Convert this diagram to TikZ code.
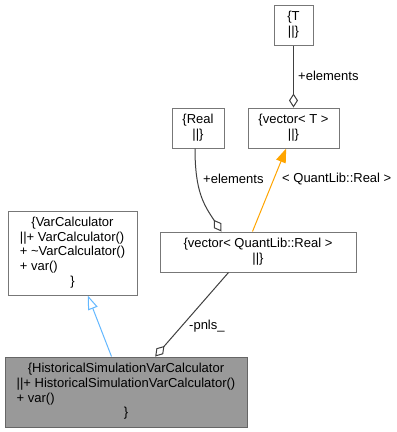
\documentclass[tikz,border=0pt]{standalone}
\usepackage{fontspec}
\setmainfont{Liberation Sans}
\usetikzlibrary{arrows.meta}
\definecolor{boxline}{HTML}{777777}
\definecolor{edgeline}{HTML}{404040}
\definecolor{hifill}{HTML}{999999}
\definecolor{hiline}{HTML}{666666}
\definecolor{inherit}{HTML}{63B8FF}
\definecolor{tmpl}{HTML}{FFA500}
\tikzset{
  umlbox/.style={draw=boxline, line width=1pt, fill=white, rectangle, inner sep=0pt,
    font=\fontsize{13}{14.7}\selectfont},
  hibox/.style={umlbox, draw=hiline, fill=hifill},
  lbl/.style={anchor=west, inner sep=0pt, font=\fontsize{13}{14.7}\selectfont},
  assoc/.style={draw=edgeline, line width=1pt,
    -{Diamond[open, length=14pt, width=9pt, line width=1pt]}},
  derive/.style={draw=inherit, line width=1pt,
    -{Triangle[open, length=14pt, width=10pt, line width=1pt]}},
  instof/.style={draw=tmpl, line width=1pt,
    -{Triangle[fill=tmpl, length=14pt, width=10pt]}},
}
\renewcommand{\arraystretch}{1}
\begin{document}
\begin{tikzpicture}[x=1pt, y=-1pt]
  \useasboundingbox[fill=white] (0,0) rectangle (397,432);

  % class boxes
  \node[umlbox, minimum width=39pt, minimum height=40pt] (t) at (293.5,25)
    {\begin{tabular}{@{}c@{}}\{T\\||\}\end{tabular}};
  \node[umlbox, minimum width=91pt, minimum height=40pt] (vect) at (293.5,128)
    {\begin{tabular}{@{}c@{}}\{vector< T >\\||\}\end{tabular}};
  \node[umlbox, minimum width=52pt, minimum height=40pt] (real) at (198,128)
    {\begin{tabular}{@{}c@{}}\{Real\\||\}\end{tabular}};
  \node[umlbox, minimum width=196pt, minimum height=40pt] (vecreal) at (258,252)
    {\begin{tabular}{@{}c@{}}\{vector< QuantLib::Real >\\||\}\end{tabular}};
  \node[umlbox, minimum width=129pt, minimum height=84pt] (varcalc) at (72.5,253)
    {\begin{tabular}{@{}l@{}}\multicolumn{1}{@{}c@{}}{\{VarCalculator}\\
      ||+ VarCalculator()\\+ \textasciitilde VarCalculator()\\+ var()\\
      \multicolumn{1}{@{}c@{}}{\}}\end{tabular}};
  \node[hibox, minimum width=242pt, minimum height=70pt] (hist) at (126,392)
    {\begin{tabular}{@{}l@{}}\multicolumn{1}{@{}c@{}}{\{HistoricalSimulationVarCalculator}\\
      ||+ HistoricalSimulationVarCalculator()\\+ var()\\
      \multicolumn{1}{@{}c@{}}{\}}\end{tabular}};

  % relations
  \draw[assoc] (t.south) -- (vect.north);
  \draw[assoc] ([xshift=-3pt]real.south) .. controls (195,192) and (204,205) .. ([xshift=62pt]vecreal.north west);
  \draw[instof] ([xshift=93pt]vecreal.north west) -- ([xshift=38.7pt]vect.south west);
  \draw[assoc] ([xshift=69pt]vecreal.south west) -- ([xshift=150.7pt]hist.north west);
  \draw[derive] ([xshift=107pt]hist.north west) -- ([xshift=80.3pt]varcalc.south west);

  % relation labels
  \node[lbl] (elT) at (298,75.5) {+elements};
  \node[lbl] (elR) at (203,179) {+elements};
  \node[lbl] (targ) at (282,179) {< QuantLib::Real >};
  \node[lbl] (pnls) at (189,326) {-pnls\_};
\end{tikzpicture}
\end{document}
